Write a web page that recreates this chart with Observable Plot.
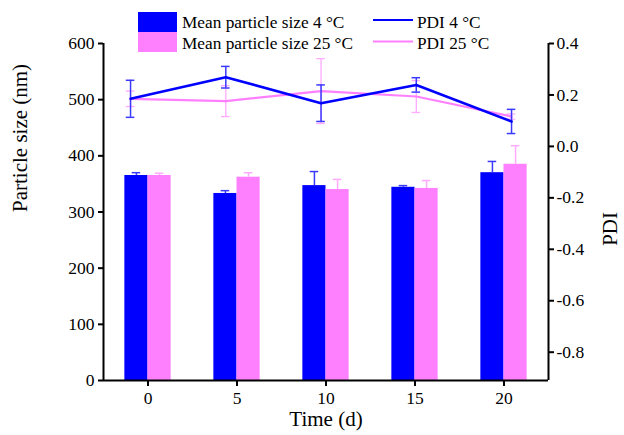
<!DOCTYPE html>
<html>
<head>
<meta charset="utf-8">
<script src="https://cdn.jsdelivr.net/npm/d3@7"></script>
<script src="https://cdn.jsdelivr.net/npm/@observablehq/plot@0.6"></script>
<style>
  html, body { margin: 0; padding: 0; background: #fff; }
</style>
</head>
<body>
<div id="chart"></div>
<script>
// ---- data ----
const days = [0, 5, 10, 15, 20];
const size4 = [365, 333, 347, 344, 370];
const size4Err = [5, 5, 25, 3, 20];
const size25 = [365, 362, 340, 342, 385];
const size25Err = [4, 8, 18, 14, 33];
const pdi4 = [0.185, 0.269, 0.168, 0.239, 0.097];
const pdi4Err = [0.072, 0.042, 0.071, 0.028, 0.047];
const pdi25 = [0.185, 0.176, 0.215, 0.194, 0.116];
const pdi25Err = [0.03, 0.06, 0.126, 0.062, 0.01];
const sizeTicks = [0, 100, 200, 300, 400, 500, 600];
const pdiTicks = [0.4, 0.2, 0.0, -0.2, -0.4, -0.6, -0.8];
const legendLabels = ["Mean particle size 4 °C", "Mean particle size 25 °C", "PDI 4 °C", "PDI 25 °C"];

// ---- scales config ----
const xDomain = [-2.5, 22.5];        // bar layer
const pdiXDomain = [-1.42, 21.94];   // line layer (second layer in original)
const sizeDomain = [0, 600];
const pdiDomain = [-0.91, 0.4];
const barW = 1.3;
const capW = 0.24;

const BLUE = "#0000ff", PINK = "#ff80ff", BLUE_ERR = "#3a3aff", PINK_ERR = "#ffaaff";

const toY = v => (v - pdiDomain[0]) / (pdiDomain[1] - pdiDomain[0]) * (sizeDomain[1] - sizeDomain[0]) + sizeDomain[0];
const toX2 = t => xDomain[0] + (t - pdiXDomain[0]) / (pdiXDomain[1] - pdiXDomain[0]) * (xDomain[1] - xDomain[0]);

const bars4 = days.map((t, i) => ({t, v: size4[i], e: size4Err[i], x1: t - barW, x2: t, xc: t - barW / 2}));
const bars25 = days.map((t, i) => ({t, v: size25[i], e: size25Err[i], x1: t, x2: t + barW, xc: t + barW / 2}));
const line4 = days.map((t, i) => ({x: toX2(t), v: toY(pdi4[i]), lo: toY(pdi4[i] - pdi4Err[i]), hi: toY(pdi4[i] + pdi4Err[i])}));
const line25 = days.map((t, i) => ({x: toX2(t), v: toY(pdi25[i]), lo: toY(pdi25[i] - pdi25Err[i]), hi: toY(pdi25[i] + pdi25Err[i])}));

function errMarks(data, color, sw) {
  return [
    Plot.ruleX(data, {x: "x", y1: "lo", y2: "hi", stroke: color, strokeWidth: sw}),
    Plot.ruleY(data, {y: "lo", x1: d => d.x - capW, x2: d => d.x + capW, stroke: color, strokeWidth: sw}),
    Plot.ruleY(data, {y: "hi", x1: d => d.x - capW, x2: d => d.x + capW, stroke: color, strokeWidth: sw})
  ];
}
function barErr(data, color) {
  return [
    Plot.ruleX(data, {x: "xc", y1: "v", y2: d => d.v + d.e, stroke: color, strokeWidth: 1.5}),
    Plot.ruleY(data, {y: d => d.v + d.e, x1: d => d.xc - capW, x2: d => d.xc + capW, stroke: color, strokeWidth: 1.5})
  ];
}
const fmtPdi = d => {
  const v = pdiDomain[0] + (d - sizeDomain[0]) / (sizeDomain[1] - sizeDomain[0]) * (pdiDomain[1] - pdiDomain[0]);
  return (Math.round(v * 10) / 10).toFixed(1);
};

const svg = Plot.plot({
  width: 624, height: 435,
  marginLeft: 103, marginRight: 76, marginTop: 43, marginBottom: 55,
  x: {domain: xDomain},
  y: {domain: sizeDomain},
  style: {fontFamily: "'Liberation Serif', 'Times New Roman', serif", fontSize: "17.5px", color: "#000", background: "#fff", overflow: "visible"},
  marks: [
    Plot.rectY(bars4, {x1: "x1", x2: "x2", y: "v", fill: BLUE}),
    Plot.rectY(bars25, {x1: "x1", x2: "x2", y: "v", fill: PINK}),
    ...barErr(bars4, BLUE_ERR),
    ...barErr(bars25, PINK_ERR),
    ...errMarks(line25, PINK_ERR, 1.3),
    Plot.line(line25, {x: "x", y: "v", stroke: PINK, strokeWidth: 2.2}),
    ...errMarks(line4, BLUE_ERR, 1.5),
    Plot.line(line4, {x: "x", y: "v", stroke: BLUE, strokeWidth: 2.6}),
    Plot.ruleX(xDomain, {stroke: "#000", strokeWidth: 2}),
    Plot.ruleY([sizeDomain[0]], {stroke: "#000", strokeWidth: 2}),
    Plot.axisX({ticks: days, tickSize: 6, tickPadding: 5, strokeWidth: 2, label: null, tickFormat: d => String(d), fontSize: 17.5}),
    Plot.axisY({ticks: sizeTicks, tickSize: 5, tickPadding: 4, strokeWidth: 2, label: null, fontSize: 17.5}),
    Plot.axisY({anchor: "right", ticks: pdiTicks.map(toY), tickFormat: fmtPdi, tickSize: 5, tickPadding: 3, strokeWidth: 2, label: null, fontSize: 17.5}),
    Plot.text(["Time (d)"], {frameAnchor: "bottom", dy: 45, fontSize: 21}),
    Plot.text(["Particle size (nm)"], {frameAnchor: "left", dx: -83, rotate: -90, fontSize: 21}),
    Plot.text(["PDI"], {frameAnchor: "right", dx: 62, rotate: -90, fontSize: 21})
  ]
});

// legend (drawn into the same svg)
const s = d3.select(svg);
const lg = s.append("g")
  .attr("font-family", "'Liberation Serif', 'Times New Roman', serif")
  .attr("font-size", 17.3).attr("fill", "#000").attr("text-anchor", "start");
lg.append("rect").attr("x", 138).attr("y", 12).attr("width", 39).attr("height", 20).attr("fill", BLUE);
lg.append("rect").attr("x", 138).attr("y", 32).attr("width", 39).attr("height", 20).attr("fill", PINK);
lg.append("text").attr("x", 182).attr("y", 28).text(legendLabels[0]);
lg.append("text").attr("x", 182).attr("y", 49).text(legendLabels[1]);
lg.append("line").attr("x1", 373).attr("x2", 413).attr("y1", 20).attr("y2", 20).attr("stroke", BLUE).attr("stroke-width", 2);
lg.append("line").attr("x1", 373).attr("x2", 413).attr("y1", 41.5).attr("y2", 41.5).attr("stroke", PINK).attr("stroke-width", 2);
lg.append("text").attr("x", 417).attr("y", 28).text(legendLabels[2]);
lg.append("text").attr("x", 417).attr("y", 49).text(legendLabels[3]);

document.getElementById("chart").appendChild(svg);
</script>
</body>
</html>
